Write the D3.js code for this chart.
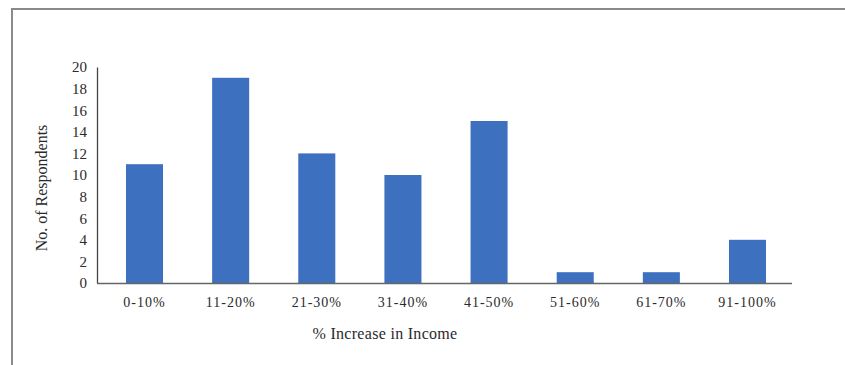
<!DOCTYPE html>
<html>
<head>
<meta charset="utf-8">
<script src="https://cdn.jsdelivr.net/npm/d3@7"></script>
<style>
  html, body { margin: 0; padding: 0; background: #fff; }
  svg { display: block; }
  text { font-family: "Liberation Serif", "Times New Roman", serif; fill: #2a2a2a; }
</style>
</head>
<body>
<script>
// Respondents grouped by percentage increase in income
const categories = ["0-10%", "11-20%", "21-30%", "31-40%", "41-50%", "51-60%", "61-70%", "91-100%"];
const respondents = [11, 19, 12, 10, 15, 1, 1, 4];
const yTicks = [0, 2, 4, 6, 8, 10, 12, 14, 16, 18, 20];

const W = 845, H = 365;
const svg = d3.select("body").append("svg").attr("width", W).attr("height", H);

// frame around the chart area
svg.append("path")
  .attr("d", `M12,${H + 5} L12,9 L${W + 5},9`)
  .attr("fill", "none").attr("stroke", "#8a8a8a").attr("stroke-width", 2);

const plotLeft = 97, plotRight = 792, plotTop = 67, plotBottom = 283;

const x = d3.scaleBand().domain(categories).range([plotLeft + 4, plotRight - 1]).paddingInner(0.57).paddingOuter(0.29);
const y = d3.scaleLinear().domain([0, 20]).range([plotBottom, plotTop]);

// bars
svg.append("g").selectAll("rect").data(respondents).join("rect")
  .attr("x", (d, i) => x(categories[i]))
  .attr("y", d => y(d))
  .attr("width", x.bandwidth())
  .attr("height", d => y(0) - y(d))
  .attr("fill", "#3e70c0");

// y axis
const yAxis = d3.axisLeft(y).tickValues(yTicks).tickSize(0).tickPadding(10);
const gy = svg.append("g").attr("transform", `translate(${plotLeft},0)`).call(yAxis);
gy.select(".domain").attr("stroke", "#444").attr("stroke-width", 1.3);
gy.selectAll("text").style("font-size", "15px").style("font-family", "Liberation Serif, serif").attr("fill", "#2a2a2a");

// x axis
const xAxis = d3.axisBottom(x).tickSize(0).tickPadding(14);
const gx = svg.append("g").attr("transform", `translate(0,${plotBottom})`).call(xAxis);
gx.select(".domain").attr("d", `M${plotLeft},0.5H${plotRight}`).attr("stroke", "#666").attr("stroke-width", 1.5);
gx.selectAll("text").style("font-size", "14px").style("letter-spacing", "1px")
  .style("font-family", "Liberation Serif, serif").attr("fill", "#2a2a2a");

// axis titles
svg.append("text")
  .attr("transform", `translate(47,188) rotate(-90)`)
  .attr("text-anchor", "middle")
  .style("font-size", "16px")
  .text("No. of Respondents");

svg.append("text")
  .attr("x", 385).attr("y", 339)
  .attr("text-anchor", "middle")
  .style("font-size", "16px")
  .style("letter-spacing", "0.3px")
  .text("% Increase in Income");
</script>
</body>
</html>
